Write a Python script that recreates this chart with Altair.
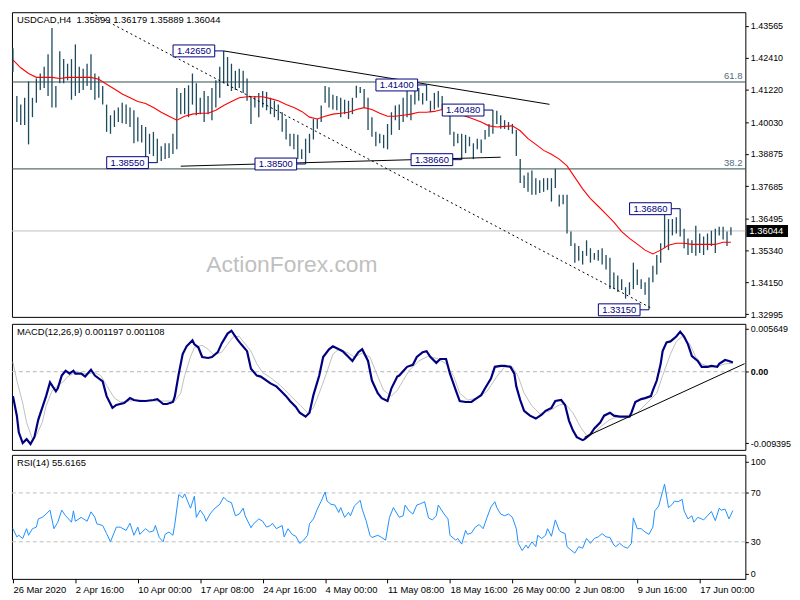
import altair as alt
import pandas as pd

FONT = "Liberation Sans"

# ---------------- data ----------------
# price bars, every other H4 bar (bar index 0, 2, 4, ...)
bar_high = [
    1.4275, 1.4100, 1.4068, 1.4093, 1.4153, 1.4093, 1.4164, 1.4182, 1.4207, 1.4253,
    1.4349, 1.4136, 1.4264, 1.4235, 1.4218, 1.4235, 1.4289, 1.4207, 1.4200, 1.4218,
    1.4253, 1.4182, 1.4171, 1.4136, 1.4068, 1.4029, 1.4047, 1.4057, 1.4075, 1.4068,
    1.4057, 1.4047, 1.4022, 1.3993, 1.3986, 1.3961, 1.3968, 1.3943, 1.3915, 1.3926,
    1.3926, 1.3961, 1.4129, 1.4111, 1.4129, 1.4139, 1.4182, 1.4146, 1.4093, 1.4118,
    1.4100, 1.4129, 1.4157, 1.4207, 1.4265, 1.4243, 1.4218, 1.4192, 1.4200, 1.4192,
    1.4164, 1.4100, 1.4100, 1.4111, 1.4118, 1.4114, 1.4093, 1.4082, 1.4068, 1.4040,
    1.4015, 1.3961, 1.3961, 1.3957, 1.3904, 1.3943, 1.3961, 1.4015, 1.4015, 1.4065,
    1.4136, 1.4132, 1.4104, 1.4100, 1.4093, 1.4086, 1.4082, 1.4093, 1.4137, 1.4133,
    1.4125, 1.4093, 1.4022, 1.3968, 1.3961, 1.3957, 1.3997, 1.4040, 1.4065, 1.4068,
    1.4093, 1.4118, 1.4104, 1.4130, 1.4129, 1.4111, 1.4140, 1.4082, 1.4111, 1.4118,
    1.4100, 1.4068, 1.4047, 1.3968, 1.3961, 1.3961, 1.3957, 1.3950, 1.3926, 1.3943,
    1.3940, 1.3975, 1.3997, 1.4048, 1.4045, 1.4029, 1.4011, 1.4004, 1.3997, 1.3975,
    1.3868, 1.3808, 1.3819, 1.3826, 1.3798, 1.3790, 1.3798, 1.3798, 1.3798, 1.3833,
    1.3737, 1.3737, 1.3737, 1.3602, 1.3559, 1.3549, 1.3531, 1.3570, 1.3541, 1.3523,
    1.3534, 1.3541, 1.3516, 1.3506, 1.3452, 1.3441, 1.3427, 1.3398, 1.3416, 1.3488,
    1.3463, 1.3427, 1.3416, 1.3434, 1.3477, 1.3516, 1.3559, 1.3673, 1.3648, 1.3648,
    1.3655, 1.3686, 1.3612, 1.3577, 1.3570, 1.3623, 1.3595, 1.3584, 1.3595, 1.3605,
    1.3612, 1.3620, 1.3620, 1.3602, 1.3618,
]
bar_low = [
    1.4189, 1.4004, 1.3993, 1.3993, 1.3922, 1.4022, 1.4075, 1.4122, 1.4129, 1.4100,
    1.4057, 1.4057, 1.4146, 1.4146, 1.4157, 1.4086, 1.4100, 1.4111, 1.4122, 1.4136,
    1.4122, 1.4086, 1.4093, 1.4068, 1.3968, 1.3961, 1.3986, 1.4004, 1.4000, 1.3997,
    1.3986, 1.3926, 1.3933, 1.3929, 1.3868, 1.3887, 1.3879, 1.3855, 1.3861, 1.3868,
    1.3872, 1.3887, 1.3904, 1.4033, 1.4033, 1.4022, 1.4068, 1.4029, 1.4033, 1.4004,
    1.4033, 1.4011, 1.4057, 1.4093, 1.4146, 1.4136, 1.4118, 1.4122, 1.4129, 1.4111,
    1.4082, 1.3997, 1.4057, 1.4022, 1.4057, 1.4047, 1.4033, 1.4022, 1.4011, 1.3968,
    1.3940, 1.3915, 1.3904, 1.3868, 1.3868, 1.3850, 1.3890, 1.3940, 1.3979, 1.4004,
    1.4075, 1.4057, 1.4050, 1.4047, 1.4022, 1.4033, 1.4015, 1.4033, 1.4093, 1.4111,
    1.4057, 1.3975, 1.3950, 1.3915, 1.3926, 1.3908, 1.3904, 1.3957, 1.4011, 1.3975,
    1.4004, 1.4022, 1.4011, 1.4068, 1.4082, 1.4068, 1.4082, 1.4040, 1.4050, 1.4057,
    1.4050, 1.4033, 1.3957, 1.3915, 1.3926, 1.3866, 1.3890, 1.3915, 1.3868, 1.3904,
    1.3890, 1.3940, 1.3950, 1.3961, 1.3997, 1.3979, 1.3979, 1.3975, 1.3961, 1.3879,
    1.3780, 1.3762, 1.3748, 1.3737, 1.3737, 1.3744, 1.3748, 1.3755, 1.3712, 1.3762,
    1.3694, 1.3702, 1.3595, 1.3549, 1.3488, 1.3495, 1.3481, 1.3513, 1.3488, 1.3499,
    1.3495, 1.3481, 1.3463, 1.3391, 1.3391, 1.3381, 1.3388, 1.3356, 1.3370, 1.3391,
    1.3406, 1.3391, 1.3370, 1.3315, 1.3416, 1.3445, 1.3488, 1.3541, 1.3534, 1.3588,
    1.3595, 1.3584, 1.3541, 1.3516, 1.3523, 1.3513, 1.3523, 1.3516, 1.3534, 1.3549,
    1.3523, 1.3588, 1.3573, 1.3549, 1.3589,
]

# moving average, every 4th H4 bar
ma_val = [
    1.4232, 1.4203, 1.4182, 1.4168, 1.4168, 1.4168, 1.4164, 1.4168, 1.4168, 1.4168,
    1.4168, 1.4161, 1.4143, 1.4125, 1.4107, 1.4093, 1.4079, 1.4072, 1.4057, 1.4040,
    1.4025, 1.4011, 1.4025, 1.4033, 1.4036, 1.4036, 1.4047, 1.4065, 1.4079, 1.4093,
    1.4097, 1.4097, 1.4097, 1.4090, 1.4082, 1.4068, 1.4057, 1.4043, 1.4022, 1.4015,
    1.4025, 1.4033, 1.4036, 1.4040, 1.4050, 1.4057, 1.4050, 1.4036, 1.4025, 1.4025,
    1.4029, 1.4033, 1.4040, 1.4040, 1.4043, 1.4050, 1.4050, 1.4040, 1.4025, 1.4015,
    1.4004, 1.3990, 1.3986, 1.3988, 1.3990, 1.3972, 1.3943, 1.3922, 1.3900, 1.3886,
    1.3868, 1.3843, 1.3801, 1.3759, 1.3723, 1.3695, 1.3666, 1.3637, 1.3602, 1.3577,
    1.3556, 1.3534, 1.3520, 1.3534, 1.3552, 1.3559, 1.3559, 1.3555, 1.3555, 1.3555,
    1.3555, 1.3563, 1.3563,
]

macd_n = [
    0, 2, 3, 5, 7, 9, 11, 13, 17, 19, 22, 23, 25, 27, 29, 31, 32, 35, 37, 40,
    42, 46, 48, 51, 53, 57, 60, 62, 65, 68, 72, 74, 77, 79, 82, 83, 85, 87, 89, 92,
    93, 95, 97, 100, 102, 105, 107, 110, 112, 115, 117, 120, 122, 125, 127, 130, 132, 135, 137, 140,
    142, 145, 147, 150, 152, 154, 157, 159, 162, 164, 167, 169, 172, 174, 177, 179, 182, 184, 187, 189,
    192, 194, 197, 198, 202, 205, 207, 210, 212, 214, 217, 219, 222, 224, 227, 229, 232, 235, 237, 240,
    242, 245, 247, 250, 252, 255, 257, 258, 260, 262, 265, 268, 271, 273, 276, 278, 281, 283, 285, 287,
    289, 292, 293, 296, 298, 301, 303, 306, 308, 311, 313, 316, 317, 319, 322, 324, 327, 328, 330, 332,
    333, 335, 337, 340, 342, 344, 346, 348, 351, 353, 356, 358, 361, 362, 365, 367, 369,
]
macd_val = [
    -0.00321, -0.00578, -0.00796, -0.00937, -0.00886, -0.00950, -0.00860, -0.00629, -0.00321, -0.00141,
    -0.00257, -0.00218, -0.00051, 0.00013, -0.00026, 0.00013, -0.00026, -0.00026, -0.00064, 0.00026,
    -0.00051, -0.00128, -0.00321, -0.00475, -0.00437, -0.00411, -0.00347, -0.00372, -0.00385, -0.00385,
    -0.00372, -0.00360, -0.00424, -0.00424, -0.00398, -0.00321, -0.00026, 0.00231, 0.00334, 0.00411,
    0.00360, 0.00321, 0.00193, 0.00180, 0.00193, 0.00257, 0.00372, 0.00501, 0.00539, 0.00424,
    0.00360, 0.00270, 0.00039, -0.00051, -0.00064, -0.00116, -0.00154, -0.00193, -0.00244, -0.00321,
    -0.00385, -0.00462, -0.00539, -0.00591, -0.00539, -0.00308, -0.00051, 0.00193, 0.00295, 0.00334,
    0.00295, 0.00270, 0.00193, 0.00141, 0.00257, 0.00295, 0.00141, -0.00116, -0.00282, -0.00347,
    -0.00385, -0.00218, -0.00064, -0.00051, 0.00064, 0.00090, 0.00193, 0.00257, 0.00270, 0.00193,
    0.00116, 0.00167, 0.00167, -0.00026, -0.00244, -0.00385, -0.00398, -0.00398, -0.00360, -0.00308,
    -0.00218, -0.00090, 0.00064, 0.00077, 0.00077, 0.00064, -0.00026, -0.00193, -0.00372, -0.00514,
    -0.00578, -0.00616, -0.00565, -0.00514, -0.00475, -0.00385, -0.00372, -0.00437, -0.00642, -0.00770,
    -0.00860, -0.00899, -0.00886, -0.00822, -0.00745, -0.00668, -0.00578, -0.00539, -0.00578, -0.00591,
    -0.00591, -0.00591, -0.00539, -0.00398, -0.00360, -0.00347, -0.00321, -0.00244, -0.00116, 0.00103,
    0.00270, 0.00385, 0.00398, 0.00462, 0.00526, 0.00462, 0.00360, 0.00205, 0.00141, 0.00064,
    0.00064, 0.00077, 0.00064, 0.00103, 0.00154, 0.00141, 0.00120,
]

sig_n = [
    0, 2, 5, 7, 10, 12, 15, 17, 20, 23, 26, 28, 32, 37, 42, 45, 48, 52, 55, 60,
    65, 72, 78, 83, 86, 88, 91, 93, 97, 100, 103, 107, 110, 113, 116, 118, 122, 125, 128, 132,
    137, 142, 147, 151, 154, 157, 161, 164, 167, 172, 175, 179, 183, 187, 190, 194, 197, 203, 208, 213,
    218, 222, 226, 229, 233, 238, 243, 248, 252, 256, 259, 262, 266, 270, 275, 280, 283, 287, 291, 294,
    297, 302, 306, 310, 315, 320, 325, 330, 333, 337, 340, 343, 347, 350, 353, 357, 362, 365, 369,
]
sig_val = [
    0.00128, -0.00116, -0.00411, -0.00668, -0.00886, -0.00835, -0.00668, -0.00449, -0.00257, -0.00180,
    -0.00128, -0.00064, -0.00013, -0.00026, -0.00013, -0.00051, -0.00180, -0.00347, -0.00398, -0.00385,
    -0.00372, -0.00385, -0.00385, -0.00385, -0.00282, -0.00051, 0.00193, 0.00321, 0.00347, 0.00295,
    0.00218, 0.00257, 0.00360, 0.00462, 0.00462, 0.00398, 0.00270, 0.00103, -0.00013, -0.00077,
    -0.00180, -0.00308, -0.00437, -0.00539, -0.00475, -0.00282, 0.0, 0.00231, 0.00295, 0.00244,
    0.00193, 0.00244, 0.00193, -0.00064, -0.00244, -0.00321, -0.00244, 0.00013, 0.00141, 0.00205,
    0.00167, 0.00103, -0.00064, -0.00282, -0.00372, -0.00347, -0.00257, -0.00064, 0.00064, 0.00064,
    -0.00064, -0.00282, -0.00449, -0.00552, -0.00514, -0.00437, -0.00424, -0.00539, -0.00732, -0.00835,
    -0.00822, -0.00706, -0.00629, -0.00591, -0.00591, -0.00539, -0.00411, -0.00282, -0.00051, 0.00231,
    0.00398, 0.00462, 0.00360, 0.00193, 0.00103, 0.00064, 0.00077, 0.00103, 0.00111,
]

rsi_n = [
    0, 2, 3, 5, 7, 8, 10, 12, 13, 15, 17, 19, 21, 23, 25, 27, 30, 31, 32, 35,
    38, 40, 42, 43, 46, 48, 50, 53, 55, 58, 60, 62, 64, 65, 68, 70, 72, 73, 75, 77,
    78, 80, 82, 83, 85, 87, 88, 91, 93, 94, 96, 98, 99, 101, 103, 106, 108, 110, 112, 114,
    116, 118, 119, 122, 123, 126, 128, 130, 132, 133, 135, 138, 139, 141, 143, 145, 147, 149, 151, 152,
    154, 156, 158, 160, 161, 163, 165, 167, 168, 170, 172, 173, 175, 178, 179, 181, 183, 184, 187, 189,
    191, 193, 195, 198,
    200, 201, 203, 205, 207, 209, 211, 213, 215, 217, 218, 221, 223, 224, 227, 228, 230, 232, 233, 235,
    237, 239, 241, 243, 245, 247, 248, 250, 252, 254, 256, 258, 259, 261, 263, 264, 266, 268, 269, 271,
    273, 274, 276, 278, 280, 281, 283, 284, 286, 288, 290, 292, 294, 296, 298, 300, 302, 304, 306, 308,
    309, 311, 313, 315, 317, 318, 320, 322, 324, 326, 328, 329, 331, 333, 334, 336, 338, 339, 341, 343,
    344, 346, 348, 349, 351, 353, 354, 356, 358, 360, 362, 363, 365, 367, 369,
]
rsi_val = [
    40.7, 34, 35.3, 32.7, 40.7, 35.3, 40.7, 42, 48.7, 50, 52.7, 55.9, 40.7, 46, 55.9, 51.3, 46, 55.3, 46.8, 50,
    46.8, 54.5, 50, 44.7, 43.3, 36.7, 30, 42, 42, 39.3, 45.2, 35.3, 42, 36.1, 40.7, 38, 38.8, 43.3, 33.5, 30,
    36.1, 38, 35.3, 44.7, 68.7, 66, 69.2, 57.5, 67.3, 50, 55.9, 51.3, 46.8, 52.7, 56.7, 60.7, 66.5, 63.3, 62, 51.3,
    52.7, 57.5, 51.3, 41.5, 44.1, 48.7, 46.8, 42, 43.3, 45.2, 40.7, 43.3, 34, 40.7, 36.1, 34.5, 28.7, 31.3, 35.3, 44.7,
    48.7, 56.7, 63.3, 70.8, 63.3, 60.7, 60.1, 54, 58, 50, 54, 51.3, 59.3, 63.9, 56.7, 47.3, 35.3, 33.5, 35.3, 33.5,
    31.3, 50, 58, 50,
    51.3, 60.1, 55.3, 52.7, 60.1, 61.2, 62.8, 49.5, 47.9, 51.3, 60.1, 52.7, 48.7, 35.3, 31.3, 32.7, 28.1, 39.3, 36.1, 37.2,
    42, 44.1, 40.7, 50, 58.5, 62.8, 58, 52.7, 51.3, 52.7, 50, 40.7, 28.7, 22.8, 27.3, 24.7, 30, 26, 35.3, 32.7,
    35.3, 40.7, 34.5, 47.9, 39.3, 38, 36.7, 26, 23.3, 20.7, 26, 24.7, 32.7, 28.7, 32.7, 34, 36.7, 34, 33.5, 27.3,
    26, 28.7, 26, 24.7, 28.7, 49.5, 40.7, 40.7, 38, 36.1, 42, 55.3, 59.3, 71.3, 77.2, 58, 60.7, 63.3, 62.8, 64.7,
    55.3, 48.7, 51.3, 46, 50, 48.7, 47.9, 51.3, 54.8, 47.3, 57.5, 55.9, 56.7, 48.7, 55.6,
]

price_ticks = [1.43565, 1.42410, 1.41220, 1.40030, 1.38875, 1.37685, 1.36495, 1.35340, 1.34150, 1.32995]
macd_ticks = [0.005649, 0.0, -0.009395]
macd_tick_labels = ["0.005649", "0.00", "-0.009395"]
rsi_ticks = [95.8, 70, 30, 3.6]
rsi_tick_labels = ["100", "70", "30", "0"]
date_ticks = [0, 32, 64, 96, 128, 160, 192, 224, 256, 288, 320, 352]
date_labels = ["26 Mar 2020", "2 Apr 16:00", "10 Apr 00:00", "17 Apr 08:00", "24 Apr 16:00",
               "4 May 00:00", "11 May 08:00", "18 May 16:00", "26 May 00:00", "2 Jun 08:00",
               "9 Jun 16:00", "17 Jun 00:00"]

fib_price = [1.4151, 1.3832]
fib_text = ["61.8", "38.2"]
last_price = 1.36044

label_n = [108, 212, 246, 74, 150, 230, 342, 326]
label_price = [1.4265, 1.4140, 1.4048, 1.3855, 1.3850, 1.3866, 1.3686, 1.3315]
label_text = ["1.42650", "1.41400", "1.40480", "1.38550", "1.38500", "1.38660", "1.36860", "1.33150"]

trend_id = ["upper", "upper", "lower", "lower"]
trend_n = [108, 275, 86, 250]
trend_p = [1.4265, 1.4069, 1.3842, 1.3875]
dash_n = [40, 327]
dash_p = [1.4405, 1.3322]
macd_trend_n = [293, 375]
macd_trend_v = [-0.0086, 0.00105]

title_price = "USDCAD,H4 \u00a01.35899 1.36179 1.35889 1.36044"
title_macd = "MACD(12,26,9) 0.001197 0.001108"
title_rsi = "RSI(14) 55.6165"

# ---------------- layout ----------------
W = 739
H1, H2, H3 = 307, 127, 125
BAR = "#1d4a5c"
NAVY = "#000080"

xscale = alt.Scale(domain=[-0.5, 375.4], nice=False, zero=False)


def xq(field):
    return alt.X(field, type="quantitative", scale=xscale, axis=None)


def right_axis(**kw):
    return alt.Axis(orient="right", title=None, grid=False, domain=False, ticks=True,
                    tickSize=3, tickColor="black", labelPadding=2, labelFontSize=9,
                    labelFont=FONT, labelColor="black", labelOverlap=False, **kw)


# ---- price panel ----
price_axis = right_axis(values=price_ticks, format=".5f")
ys = alt.Scale(domain=[1.3289, 1.4407], nice=False, zero=False)


def py(field):
    return alt.Y(field, type="quantitative", scale=ys, axis=price_axis)


bars_df = pd.DataFrame({"n": list(range(0, 2 * len(bar_high), 2)), "hi": bar_high, "lo": bar_low})
ma_df = pd.DataFrame({"n": list(range(0, 4 * len(ma_val), 4)), "ma": ma_val})
hl_df = pd.DataFrame({"p": fib_price + [last_price], "c": ["#2f4f4f", "#2f4f4f", "#c0c0c0"]})
fib_df = pd.DataFrame({"p": fib_price, "t": fib_text})
lab_df = pd.DataFrame({"n": label_n, "p": label_price, "t": label_text})
trend_df = pd.DataFrame({"id": trend_id, "n": trend_n, "p": trend_p})
dash_df = pd.DataFrame({"n": dash_n, "p": dash_p})
tag_df = pd.DataFrame({"p": [last_price], "t": ["1.36044"]})
wm_df = pd.DataFrame({"n": [143], "p": [1.3481], "t": ["ActionForex.com"]})

hlines = alt.Chart(hl_df).mark_rule(strokeWidth=1).encode(
    y=py("p"), color=alt.Color("c:N", scale=None))
watermark = alt.Chart(wm_df).mark_text(font=FONT, fontSize=23, color="#c0c0c0").encode(
    x=xq("n"), y=py("p"), text="t:N")
bars = alt.Chart(bars_df).mark_rule(color=BAR, strokeWidth=1.3).encode(
    x=xq("n"), y=py("lo"), y2=alt.Y2("hi"))
ma = alt.Chart(ma_df).mark_line(color="#ff0000", strokeWidth=1.1).encode(x=xq("n"), y=py("ma"))
trend = alt.Chart(trend_df).mark_line(color="black", strokeWidth=1).encode(
    x=xq("n"), y=py("p"), detail="id:N")
dashed = alt.Chart(dash_df).mark_line(color="black", strokeWidth=1, strokeDash=[2, 3]).encode(
    x=xq("n"), y=py("p"))
fibtext = alt.Chart(fib_df).mark_text(align="right", baseline="bottom", dy=-1, font=FONT,
                                      fontSize=9.5, color="#4d6b7a").encode(
    x=alt.value(W - 3), y=py("p"), text="t:N")
lab_box = alt.Chart(lab_df).mark_rect(fill="white", stroke=NAVY, strokeWidth=1,
                                      xOffset=-51, x2Offset=-9, yOffset=-6, y2Offset=6).encode(
    x=xq("n"), x2=alt.X2("n"), y=py("p"), y2=alt.Y2("p"))
lab_conn = alt.Chart(lab_df).mark_rule(color=NAVY, strokeWidth=1, xOffset=-9).encode(
    x=xq("n"), x2=alt.X2("n"), y=py("p"))
lab_txt = alt.Chart(lab_df).mark_text(font=FONT, fontSize=9.5, color=NAVY, xOffset=-30,
                                      baseline="middle").encode(
    x=xq("n"), y=py("p"), text="t:N")
tag_box = alt.Chart(tag_df).mark_rect(color="black", yOffset=-6, y2Offset=6).encode(
    x=alt.value(W + 1), x2=alt.value(W + 43), y=py("p"), y2=alt.Y2("p"))
tag_txt = alt.Chart(tag_df).mark_text(font=FONT, fontSize=9.5, color="white", align="left",
                                      baseline="middle").encode(
    x=alt.value(W + 4), y=py("p"), text="t:N")
ptitle = alt.Chart(pd.DataFrame({"t": [title_price]})).mark_text(
    font=FONT, fontSize=9.5, color="black", align="left", baseline="middle").encode(
    x=alt.value(5), y=alt.value(8), text="t:N")

price = alt.layer(hlines, watermark, bars, ma, trend, dashed, fibtext,
                  lab_conn, lab_box, lab_txt, tag_box, tag_txt, ptitle).properties(width=W, height=H1)

# ---- MACD panel ----
macd_expr = ("datum.value > 0.001 ? '%s' : datum.value < -0.001 ? '%s' : '%s'"
             % (macd_tick_labels[0], macd_tick_labels[2], macd_tick_labels[1]))
macd_axis = right_axis(values=macd_ticks, labelExpr=macd_expr,
                       labelFontWeight={"condition": {"test": "datum.value == 0", "value": "bold"},
                                        "value": "normal"})
ms = alt.Scale(domain=[-0.01027, 0.00629], nice=False, zero=False)


def my(field):
    return alt.Y(field, type="quantitative", scale=ms, axis=macd_axis)


zero_rule = alt.Chart(pd.DataFrame({"v": [0.0]})).mark_rule(
    color="#b4b4b4", strokeDash=[4, 3], strokeWidth=1).encode(y=my("v"))
sig_line = alt.Chart(pd.DataFrame({"n": sig_n, "v": sig_val})).mark_line(
    color="#c0c0c0", strokeWidth=1).encode(x=xq("n"), y=my("v"))
macd_line = alt.Chart(pd.DataFrame({"n": macd_n, "v": macd_val})).mark_line(
    color=NAVY, strokeWidth=2.2).encode(x=xq("n"), y=my("v"))
macd_trend = alt.Chart(pd.DataFrame({"n": macd_trend_n, "v": macd_trend_v})).mark_line(
    color="black", strokeWidth=1).encode(x=xq("n"), y=my("v"))
mtitle = alt.Chart(pd.DataFrame({"t": [title_macd]})).mark_text(
    font=FONT, fontSize=9.5, color="black", align="left", baseline="middle").encode(
    x=alt.value(5), y=alt.value(8), text="t:N")

macd = alt.layer(zero_rule, sig_line, macd_line, macd_trend, mtitle).properties(width=W, height=H2)

# ---- RSI panel ----
rsi_expr = ("datum.value > 90 ? '%s' : datum.value > 50 ? '%s' : datum.value > 10 ? '%s' : '%s'"
            % tuple(rsi_tick_labels))
rsi_axis = right_axis(values=rsi_ticks, labelExpr=rsi_expr)
rs = alt.Scale(domain=[-0.4, 101.2], nice=False, zero=False)
date_expr = "[" + ",".join("'%s'" % s for s in date_labels) + "][round(datum.value / 32)]"
x_axis = alt.Axis(orient="bottom", values=date_ticks, labelExpr=date_expr, title=None,
                  grid=False, domain=False, ticks=True, tickSize=4, tickColor="black",
                  labelAlign="left", labelBaseline="top", labelPadding=2, labelFont=FONT,
                  labelFontSize=9.5, labelColor="black", labelOverlap=False, labelFlush=False)


def ry(field):
    return alt.Y(field, type="quantitative", scale=rs, axis=rsi_axis)


rsi_levels = alt.Chart(pd.DataFrame({"v": [70, 30]})).mark_rule(
    color="#c0c0c0", strokeDash=[4, 3], strokeWidth=1).encode(y=ry("v"))
rsi_line = alt.Chart(pd.DataFrame({"n": rsi_n, "v": rsi_val})).mark_line(
    color="#1e90ff", strokeWidth=1).encode(
    x=alt.X("n", type="quantitative", scale=xscale, axis=x_axis), y=ry("v"))
rtitle = alt.Chart(pd.DataFrame({"t": [title_rsi]})).mark_text(
    font=FONT, fontSize=9.5, color="black", align="left", baseline="middle").encode(
    x=alt.value(5), y=alt.value(8), text="t:N")

rsi = alt.layer(rsi_levels, rsi_line, rtitle).properties(width=W, height=H3)

chart = alt.vconcat(price, macd, rsi, spacing=3).properties(
    padding={"left": 0, "top": 0, "right": 0, "bottom": 0}, background="white"
).configure_view(stroke="black", strokeWidth=1)

chart.save("out.html", embed_options={"renderer": "svg", "actions": False})
